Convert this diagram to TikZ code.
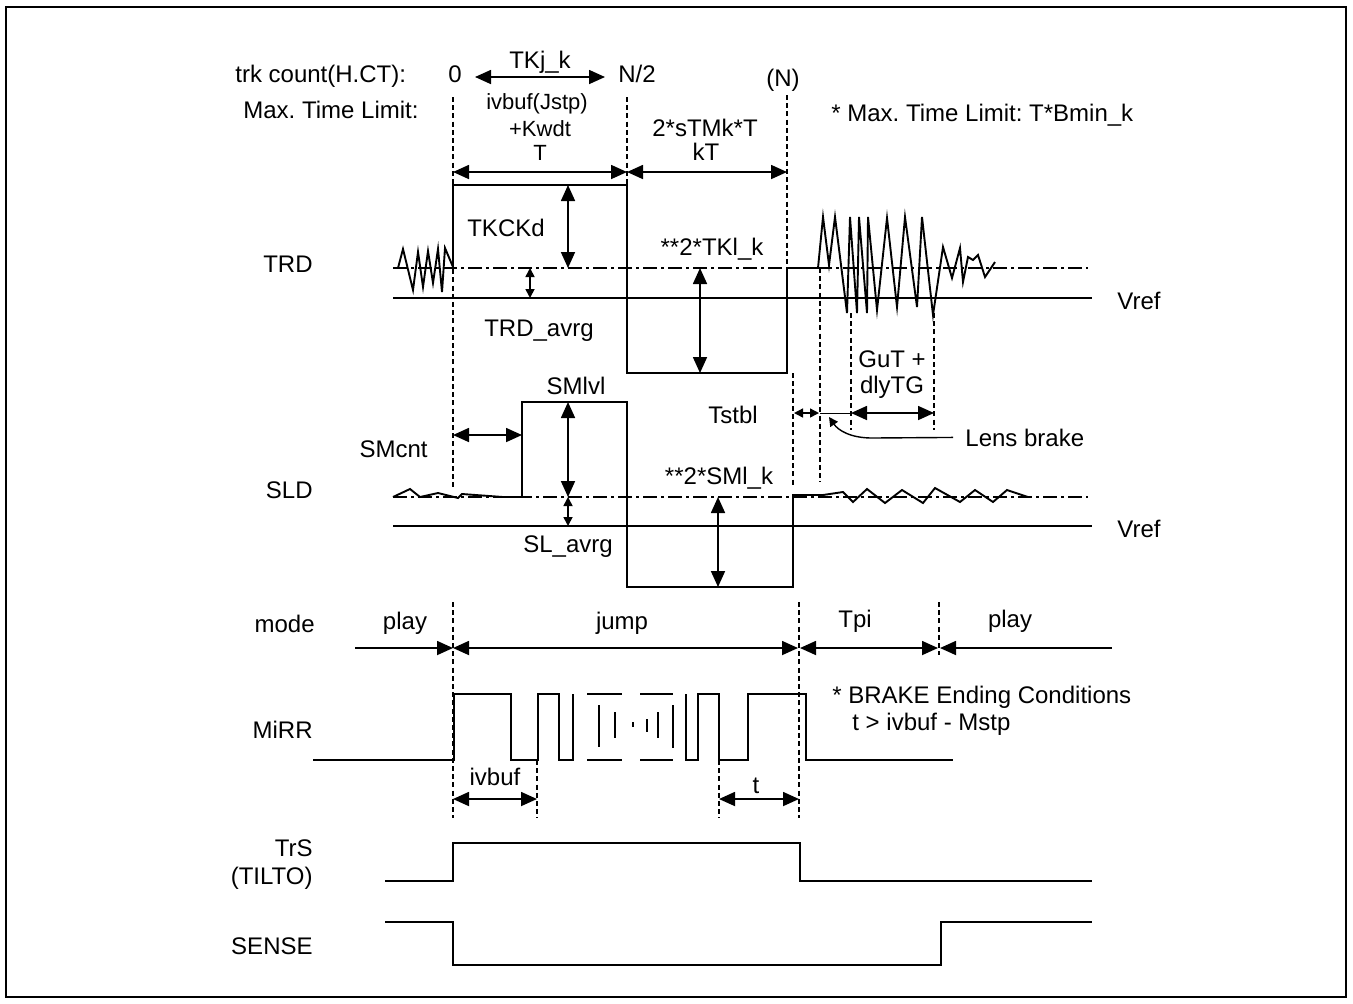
\documentclass[tikz,border=0pt]{standalone}
\usepackage{fontspec}
\setmainfont{Liberation Sans}
\usetikzlibrary{arrows.meta,positioning}
\frenchspacing

\begin{document}
\begin{tikzpicture}[x=0.5pt,y=-0.5pt,
  sig/.style={line width=0.95pt,line join=miter},
  guide/.style={line width=0.7pt,dash pattern=on 2.5pt off 1.6pt},
  level/.style={line width=0.8pt,dash pattern=on 7pt off 2pt on 1.5pt off 2pt},
  ref/.style={line width=0.85pt},
  arr/.style={line width=0.85pt,>={Triangle[length=8pt,width=7pt]}},
  arrsmall/.style={line width=0.85pt,>={Triangle[length=4.5pt,width=4.5pt]}},
  arrtiny/.style={line width=0.7pt,>={Triangle[length=4.5pt,width=4.5pt]}},
  lbl/.style={font=\fontsize{12}{14}\selectfont,inner sep=0pt,anchor=base},
  lblsmall/.style={font=\fontsize{11}{13}\selectfont,inner sep=0pt,anchor=base},
  signame/.style={lbl,anchor=base east}]

  \useasboundingbox (0,0) rectangle (1353,1003);
  \draw[line width=1.2pt] (6,7) rectangle (1346,997);

  % header
  \node[lbl,anchor=base west] (trk) at (235,82) {trk count(H.CT):};
  \node[lbl,anchor=base west] (maxtl) at (243,118) {Max. Time Limit:};
  \node[lbl] (zero) at (455,82) {0};
  \node[lbl] (half) at (637,82) {N/2};
  \node[lbl] (full) at (783,86) {(N)};
  \node[lbl] (tkj) at (540,68) {TKj\_k};
  \node[lblsmall] (ivjstp) at (537,109) {ivbuf(Jstp)};
  \node[lblsmall] (kwdt) at (540,136) {+Kwdt};
  \node[lblsmall] (tT) at (540,160) {T};
  \node[lbl] (stmk) at (705,136) {2*sTMk*T};
  \node[lbl] (kT) at (706,160) {kT};
  \node[lbl,anchor=base west] (note1) at (831,121) {* Max. Time Limit: T*Bmin\_k};

  \draw[arr,<->] (475,77) -- (605,77);
  \draw[arr,<->] (453,172) -- (627,172);
  \draw[arr,<->] (627,172) -- (787,172);

  % guides
  \draw[guide] (453,97) -- (453,487);
  \draw[guide] (627,97) -- (627,185);
  \draw[guide] (787,95) -- (787,268);
  \draw[guide] (793,373) -- (793,487);
  \draw[guide] (820,268) -- (820,482);
  \draw[guide] (851,313) -- (851,430);
  \draw[guide] (934,313) -- (934,430);
  \draw[guide] (453,602) -- (453,818);
  \draw[guide] (799,602) -- (799,818);
  \draw[guide] (939,602) -- (939,655);
  \draw[guide] (537,760) -- (537,818);
  \draw[guide] (719,760) -- (719,818);

  % TRD
  \node[signame] (trd) at (313,272) {TRD};
  \draw[level] (393,268) -- (1088,268);
  \draw[ref] (393,298) -- (1092,298);
  \node[lbl,anchor=base west] (vref1) at (1117,309) {Vref};
  \draw[sig] (393,268) -- (398,268) -- (403,249) -- (413,290) -- (418,252) -- (423,287)
    -- (428,251) -- (433,283) -- (438,249) -- (442,292) -- (445,248) -- (453,267)
    -- (453,185) -- (627,185) -- (627,373) -- (787,373) -- (787,268) -- (818,268)
    -- (823,217) -- (829,265) -- (835,217) -- (847,313) -- (850,217) -- (857,313)
    -- (859,217) -- (867,313) -- (868,217) -- (877,310) -- (887,218) -- (897,307)
    -- (905,217) -- (917,307) -- (922,217) -- (933,315) -- (943,247) -- (952,278)
    -- (960,248) -- (963,282) -- (968,257) -- (973,260) -- (978,255) -- (985,277)
    -- (995,262);
  \node[lbl] (tkckd) at (506,236) {TKCKd};
  \node[lbl] (tkl) at (712,255) {**2*TKl\_k};
  \node[lbl] (trdavrg) at (539,336) {TRD\_avrg};
  \draw[arr,<->] (568,185) -- (568,268);
  \draw[arrsmall,<->] (530,268) -- (530,298);
  \draw[arr,<->] (700,268) -- (700,373);

  % brake timing
  \node[lbl] (tstbl) at (733,423) {Tstbl};
  \node[lbl] (gut) at (892,367) {GuT +};
  \node[lbl] (dlytg) at (892,393) {dlyTG};
  \node[lbl,anchor=base west] (lens) at (965,446) {Lens brake};
  \draw[arrtiny,<->] (794,413) -- (819,413);
  \draw[line width=0.5pt] (820,413) -- (851,413);
  \draw[arr,<->] (851,413) -- (934,413);
  \draw[arrtiny,->] ([xshift=-6pt]lens.west) -- (872,438)
    .. controls (850,438) and (838,430) .. (829,417);

  % SLD
  \node[signame] (sld) at (313,498) {SLD};
  \draw[level] (393,497) -- (1088,497);
  \draw[ref] (393,526) -- (1092,526);
  \node[lbl,anchor=base west] (vref2) at (1117,537) {Vref};
  \draw[sig] (393,497) -- (410,489) -- (420,497) -- (438,493) -- (458,498) -- (462,494)
    -- (503,497) -- (522,497) -- (522,402) -- (627,402) -- (627,587) -- (793,587)
    -- (793,495) -- (823,495) -- (843,492) -- (853,502) -- (867,489) -- (885,503)
    -- (902,490) -- (923,503) -- (935,488) -- (960,502) -- (975,490) -- (993,502)
    -- (1007,490) -- (1028,497);
  \node[lbl] (smlvl) at (576,394) {SMlvl};
  \node[lbl,anchor=base east] (smcnt) at (428,457) {SMcnt};
  \node[lbl] (sml) at (719,484) {**2*SMl\_k};
  \node[lbl] (slavrg) at (568,552) {SL\_avrg};
  \draw[arr,<->] (453,435) -- (522,435);
  \draw[arr,<->] (568,402) -- (568,497);
  \draw[arrsmall,<->] (568,497) -- (568,526);
  \draw[arr,<->] (718,497) -- (718,587);

  % mode
  \node[signame] (mode) at (315,632) {mode};
  \node[lbl] (play1) at (405,629) {play};
  \node[lbl] (jump) at (622,629) {jump};
  \node[lbl] (tpi) at (855,627) {Tpi};
  \node[lbl] (play2) at (1010,627) {play};
  \draw[arr,->] (355,648) -- (453,648);
  \draw[arr,<->] (453,648) -- (798,648);
  \draw[arr,<->] (800,648) -- (938,648);
  \draw[arr,<-] (940,648) -- (1112,648);

  % MiRR
  \node[signame] (mirr) at (313,738) {MiRR};
  \draw[sig] (313,760) -- (454,760) -- (454,694) -- (511,694) -- (511,760) -- (538,760)
    -- (538,694) -- (559,694) -- (559,760) -- (573,760) -- (573,694);
  \draw[sig] (587,694) -- (622,694) (587,760) -- (622,760)
    (640,694) -- (673,694) (640,760) -- (673,760)
    (599,705) -- (599,747) (615,712) -- (615,738) (633,722) -- (633,727)
    (647,719) -- (647,732) (658,712) -- (658,738) (673,705) -- (673,748);
  \draw[sig] (686,694) -- (686,760) -- (698,760) -- (698,694) -- (719,694) -- (719,760)
    -- (748,760) -- (748,694) -- (806,694) -- (806,760) -- (953,760);
  \node[lbl,anchor=base west] (note2) at (832,703) {* BRAKE Ending Conditions};
  \node[lbl,anchor=base west] (note3) at (852,730) {t > ivbuf - Mstp};
  \node[lbl] (ivbuf) at (495,785) {ivbuf};
  \node[lbl] (tt) at (756,793) {t};
  \draw[arr,<->] (453,799) -- (537,799);
  \draw[arr,<->] (719,799) -- (799,799);

  % TrS / SENSE
  \node[signame] (trs) at (313,856) {TrS};
  \node[signame] (tilto) at (313,884) {(TILTO)};
  \node[signame] (sense) at (313,954) {SENSE};
  \draw[sig] (385,881) -- (453,881) -- (453,843) -- (800,843) -- (800,881) -- (1092,881);
  \draw[sig] (385,922) -- (453,922) -- (453,965) -- (941,965) -- (941,922) -- (1092,922);
\end{tikzpicture}
\end{document}
